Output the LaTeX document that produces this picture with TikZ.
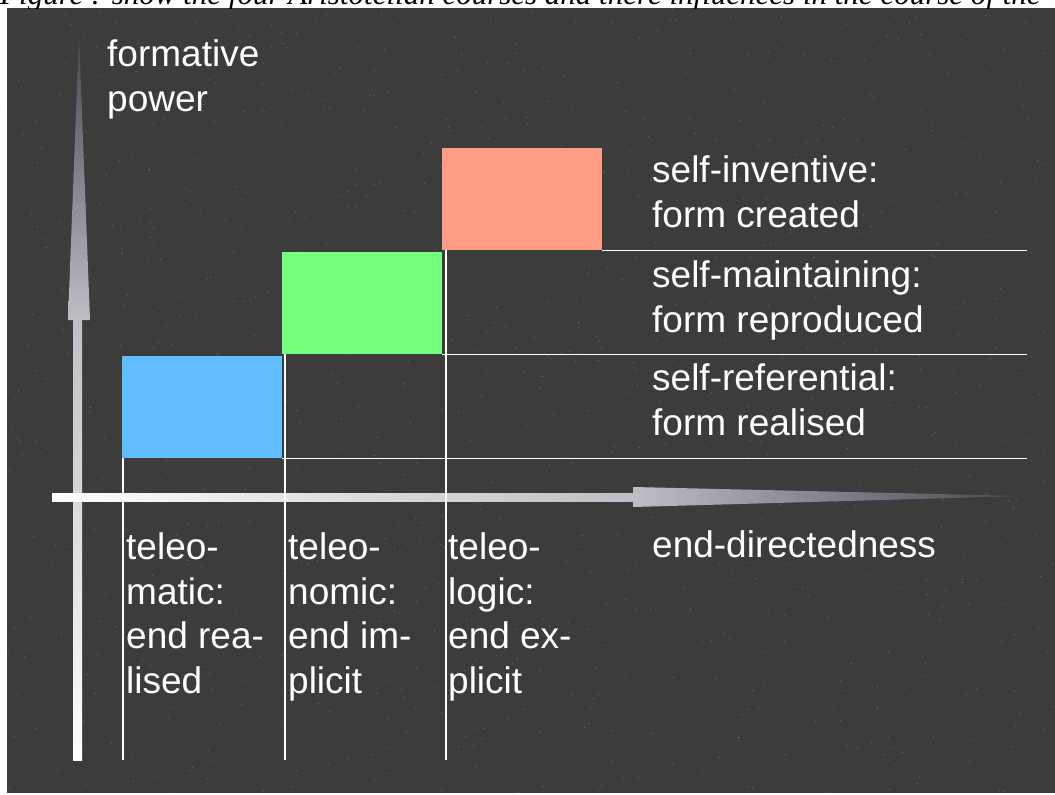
\documentclass[tikz,border=0pt]{standalone}
\usepackage{fontspec}
\setmainfont{Liberation Sans}
\newfontfamily\capfont{Liberation Serif}
\usetikzlibrary{positioning}

\definecolor{bgdark}{RGB}{60,60,60}
\definecolor{axislight}{RGB}{190,190,196}
\definecolor{axisdark}{RGB}{70,70,82}
\definecolor{maticblue}{RGB}{96,190,255}
\definecolor{nomicgreen}{RGB}{115,255,123}
\definecolor{logicsalmon}{RGB}{255,157,132}

\begin{document}
\begin{tikzpicture}[
  x=1pt, y=-1pt,
  lbl/.style={text=white, font=\fontsize{37}{44.5}\selectfont, align=left, inner sep=0pt, anchor=base west},
  level/.style={minimum width=160pt, minimum height=102pt, inner sep=0pt, anchor=north west},
  rule/.style={white, line width=1.6pt}
]
\useasboundingbox (0,0) rectangle (1055,795);
\fill[white] (0,0) rectangle (1055,795);
\fill[bgdark] (7,8) rectangle (1055,793);
% speckles
\pgfmathsetseed{7}
\foreach \i in {1,...,900}
  \fill[white, opacity=0.2] (7+rnd*1048, 8+rnd*785) circle (0.7);

% cut-off caption
\begin{scope}
  \clip (0,0) rectangle (1055,8);
  \node[anchor=base west, inner sep=0pt, font=\capfont\itshape\fontsize{31}{36}\selectfont] (caption) at (0,4.5)
    {Figure : show the four Aristotelian courses and there influences in the course of the};
\end{scope}

% axes
\shade[top color=axislight, bottom color=white] (73,320) rectangle (82,760);
\shade[bottom color=axislight, top color=axisdark] (68,320) -- (79,35) -- (90,320) -- cycle;
\shade[left color=white, right color=axislight] (52,493) rectangle (633,501);
\shade[left color=axislight, right color=axisdark] (633,487) -- (1023,496) -- (633,507) -- cycle;

\coordinate (rightend) at (1027,0);
\coordinate (bottomend) at (0,760);

% levels
\node[level, fill=maticblue] (maticbox) at (122,356) {};
\node[level, fill=nomicgreen] (nomicbox) at (282,252) {};
\node[level, fill=logicsalmon] (logicbox) at (442,148) {};

\draw[rule] (maticbox.south east) -- (maticbox.south east -| rightend);
\draw[rule] (nomicbox.south east) -- (nomicbox.south east -| rightend);
\draw[rule] (logicbox.south east) -- (logicbox.south east -| rightend);
\draw[rule] ([xshift=1pt]maticbox.south west) -- ([xshift=1pt]maticbox.south west |- bottomend);
\draw[rule] ([xshift=3pt]nomicbox.south west) -- ([xshift=3pt]nomicbox.south west |- bottomend);
\draw[rule] ([xshift=4pt]logicbox.south west) -- ([xshift=4pt]logicbox.south west |- bottomend);

% labels (anchored on the last line)
\node[lbl] (powerlabel) at (107,111) {formative\\power};
\node[lbl] (inventlabel) at (652,227) {self-inventive:\\form created};
\node[lbl] (maintainlabel) at (652,332) {self-maintaining:\\form reproduced};
\node[lbl] (referlabel) at (652,435) {self-referential:\\form realised};
\node[lbl] (endlabel) at (652,557) {end-directedness};
\node[lbl] (maticlabel) at (126,693) {teleo-\\matic:\\end rea-\\lised};
\node[lbl] (nomiclabel) at (288,693) {teleo-\\nomic:\\end im-\\plicit};
\node[lbl] (logiclabel) at (448,693) {teleo-\\logic:\\end ex-\\plicit};
\end{tikzpicture}
\end{document}
